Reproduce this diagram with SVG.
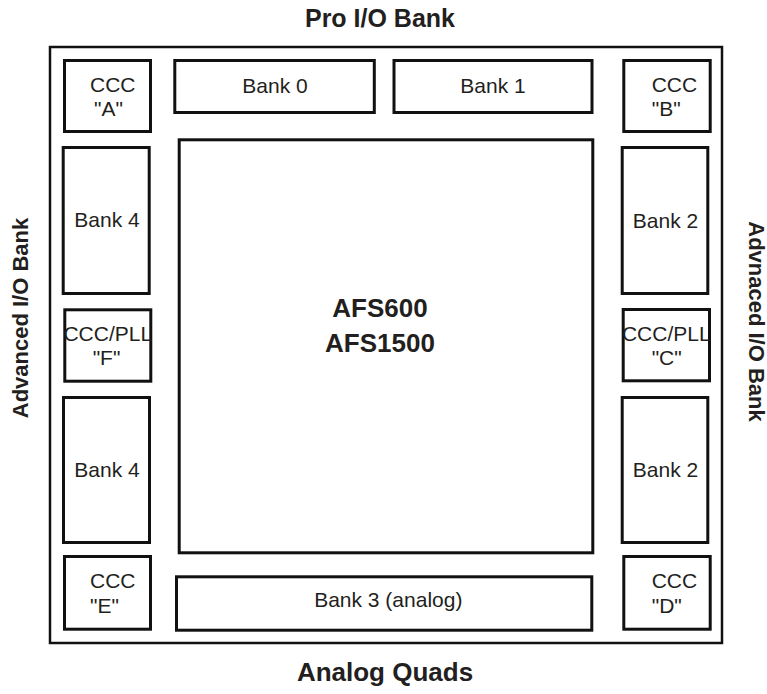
<svg xmlns="http://www.w3.org/2000/svg" width="767" height="694" viewBox="0 0 767 694">
<style>
.box{fill:#fff;stroke:#111;stroke-width:3}
.outer{fill:#fff;stroke:#111;stroke-width:2.5}
.lbl{font-family:"Liberation Sans",Arial,sans-serif;font-size:21px;fill:#231f20}
.c{text-anchor:middle}
.title{font-family:"Liberation Sans",Arial,sans-serif;font-size:25px;font-weight:bold;fill:#231f20;text-anchor:middle}
.side{font-family:"Liberation Sans",Arial,sans-serif;font-size:22px;font-weight:bold;fill:#231f20;text-anchor:middle}
.chip{font-family:"Liberation Sans",Arial,sans-serif;font-size:26px;font-weight:bold;fill:#231f20;text-anchor:middle}
</style>
<rect width="767" height="694" fill="#fff"/>
<g id="frame">
<rect class="outer" x="50" y="47" width="672" height="596"/>
</g>
<g id="title-top"><text class="title" x="380" y="27">Pro I/O Bank</text></g>
<g id="title-bottom"><text class="title" x="385" y="681" style="font-size:26px">Analog Quads</text></g>
<g id="title-left"><text class="side" transform="translate(27.5,318) rotate(-90)">Advanced I/O Bank</text></g>
<g id="title-right"><text class="side" transform="translate(748.5,321.5) rotate(90)">Advnaced I/O Bank</text></g>
<g id="ccc-a">
<rect class="box" x="64.5" y="60.5" width="86" height="71"/>
<text class="lbl" x="90" y="92">CCC</text>
<text class="lbl" x="94" y="116">"A"</text>
</g>
<g id="bank0">
<rect class="box" x="174.8" y="60.5" width="199.5" height="52"/>
<text class="lbl c" x="275" y="93.3">Bank 0</text>
</g>
<g id="bank1">
<rect class="box" x="394" y="60.5" width="198" height="52"/>
<text class="lbl c" x="493" y="93.3">Bank 1</text>
</g>
<g id="ccc-b">
<rect class="box" x="623.8" y="60.5" width="86.4" height="71"/>
<text class="lbl" x="651.7" y="92">CCC</text>
<text class="lbl" x="651.7" y="116">"B"</text>
</g>
<g id="bank4-upper">
<rect class="box" x="63.2" y="147.5" width="86" height="146"/>
<text class="lbl c" x="107" y="227">Bank 4</text>
</g>
<g id="ccc-pll-f">
<rect class="box" x="64.8" y="309.8" width="86" height="71.4"/>
<text class="lbl c" x="107.8" y="341">CCC/PLL</text>
<text class="lbl c" x="106.5" y="365">"F"</text>
</g>
<g id="bank4-lower">
<rect class="box" x="63.5" y="397.5" width="86" height="145"/>
<text class="lbl c" x="107" y="477">Bank 4</text>
</g>
<g id="ccc-e">
<rect class="box" x="64.5" y="556.5" width="86" height="72.7"/>
<text class="lbl" x="90" y="588.3">CCC</text>
<text class="lbl" x="90" y="613">"E"</text>
</g>
<g id="core">
<rect class="box" x="179.2" y="139.8" width="413.6" height="413"/>
<text class="chip" x="380" y="316.5">AFS600</text>
<text class="chip" x="380" y="351.5">AFS1500</text>
</g>
<g id="bank3">
<rect class="box" x="176.5" y="576.8" width="415.3" height="53.4"/>
<text class="lbl c" x="388.3" y="607.3">Bank 3 (analog)</text>
</g>
<g id="ccc-d">
<rect class="box" x="623.8" y="556.5" width="86.4" height="72.7"/>
<text class="lbl" x="651.7" y="588.3">CCC</text>
<text class="lbl" x="651.7" y="613">"D"</text>
</g>
<g id="bank2-upper">
<rect class="box" x="622.2" y="147.5" width="85.6" height="146"/>
<text class="lbl c" x="665.5" y="228">Bank 2</text>
</g>
<g id="ccc-pll-c">
<rect class="box" x="623.2" y="309.5" width="86.3" height="71.3"/>
<text class="lbl c" x="666.3" y="341">CCC/PLL</text>
<text class="lbl c" x="666.7" y="365">"C"</text>
</g>
<g id="bank2-lower">
<rect class="box" x="622.2" y="397.5" width="85.6" height="145"/>
<text class="lbl c" x="665.5" y="477">Bank 2</text>
</g>
<g id="connectors"></g>
</svg>
